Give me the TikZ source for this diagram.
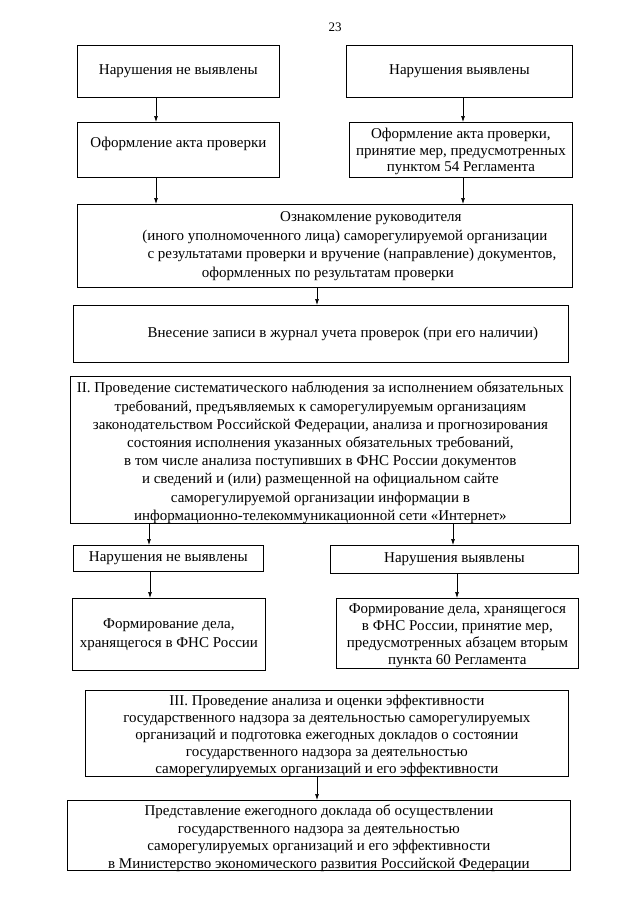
\documentclass[tikz,border=0pt]{standalone}
\usepackage{fontspec}
\setmainfont{Liberation Serif}
\usetikzlibrary{arrows.meta}
\newcommand{\lns}[1]{\begin{tabular}{@{}c@{}}#1\end{tabular}}
\newcommand{\lowr}[2]{\raisebox{-#1}[\height][\depth]{#2}}
\tikzset{
  box/.style={draw, line width=0.8pt, inner xsep=0pt, inner ysep=-6pt, anchor=north west,
    font=\fontsize{15}{18.5}\selectfont},
  wh/.style 2 args={minimum width=#1pt, minimum height=#2pt},
  arr/.style={-{Latex[length=6pt,width=4pt]}, line width=0.7pt}}
\begin{document}
\begin{tikzpicture}[x=1pt,y=-1pt]
\useasboundingbox (0,0) rectangle (640,905);
\fill[white] (0,0) rectangle (640,905);

\node[font=\fontsize{13}{15}\selectfont] (pg) at (335,27) {23};

\node[box, wh={202}{52}] (b1) at (77,45) {Нарушения не выявлены};
\node[box, wh={226}{52}] (b2) at (346,45) {Нарушения выявлены};
\node[box, wh={202}{55}] (b3) at (77,122) {\raisebox{16pt}{Оформление акта проверки}};
\node[box, wh={223}{55}, font=\fontsize{15}{16.7}\selectfont] (b4) at (349,122)
  {\lowr{2pt}{\lns{Оформление акта проверки,\\принятие мер, предусмотренных\\пунктом 54 Регламента}}};
\node[box, wh={495}{83}] (b5) at (77,204)
  {\lns{\hspace*{92pt}Ознакомление руководителя\\
   \hspace*{40pt}(иного уполномоченного лица) саморегулируемой организации\\
   \hspace*{54pt}с результатами проверки и вручение (направление) документов,\\
   \hspace*{6pt}оформленных по результатам проверки}};
\node[box, wh={495}{57}] (b6) at (73,305)
  {\hspace*{44pt}Внесение записи в журнал учета проверок (при его наличии)};
\node[box, wh={500}{147}, font=\fontsize{15}{18.2}\selectfont] (b7) at (70,376)
  {\lowr{3pt}{\lns{II. Проведение систематического наблюдения за исполнением обязательных\\
   требований, предъявляемых к саморегулируемым организациям\\
   законодательством Российской Федерации, анализа и прогнозирования\\
   состояния исполнения указанных обязательных требований,\\
   в том числе анализа поступивших в ФНС России документов\\
   и сведений и (или) размещенной на официальном сайте\\
   саморегулируемой организации информации в\\
   информационно-телекоммуникационной сети «Интернет»}}};
\node[box, wh={190}{26}] (b8) at (73,545) {Нарушения не выявлены};
\node[box, wh={248}{28}] (b9) at (330,545) {Нарушения выявлены};
\node[box, wh={193}{72}] (b10) at (72,598)
  {\lns{Формирование дела,\\хранящегося в ФНС России}};
\node[box, wh={242}{70}, font=\fontsize{15}{17}\selectfont] (b11) at (336,598)
  {\lowr{2pt}{\lns{Формирование дела, хранящегося\\в ФНС России, принятие мер,\\предусмотренных абзацем вторым\\пункта 60 Регламента}}};
\node[box, wh={483}{86}, font=\fontsize{15}{17}\selectfont] (b12) at (85,690)
  {\lowr{3pt}{\lns{III. Проведение анализа и оценки эффективности\\
   государственного надзора за деятельностью саморегулируемых\\
   организаций и подготовка ежегодных докладов о состоянии\\
   государственного надзора за деятельностью\\
   саморегулируемых организаций и его эффективности}}};
\node[box, wh={503}{70}, font=\fontsize{15}{17.5}\selectfont] (b13) at (67,800)
  {\lowr{3pt}{\lns{Представление ежегодного доклада об осуществлении\\
   государственного надзора за деятельностью\\
   саморегулируемых организаций и его эффективности\\
   в Министерство экономического развития Российской Федерации}}};

\coordinate (xA) at (156,0);
\coordinate (xB) at (463,0);
\coordinate (xC) at (317,0);
\coordinate (xD) at (149,0);
\coordinate (xE) at (453,0);
\coordinate (xF) at (150,0);
\coordinate (xG) at (457,0);

\draw[arr] (b1.south -| xA) -- (b3.north -| xA);
\draw[arr] (b2.south -| xB) -- (b4.north -| xB);
\draw[arr] (b3.south -| xA) -- (b5.north -| xA);
\draw[arr] (b4.south -| xB) -- (b5.north -| xB);
\draw[arr] (b5.south -| xC) -- (b6.north -| xC);
\draw[arr] (b7.south -| xD) -- (b8.north -| xD);
\draw[arr] (b7.south -| xE) -- (b9.north -| xE);
\draw[arr] (b8.south -| xF) -- (b10.north -| xF);
\draw[arr] (b9.south -| xG) -- (b11.north -| xG);
\draw[arr] (b12.south -| xC) -- (b13.north -| xC);
\end{tikzpicture}
\end{document}
